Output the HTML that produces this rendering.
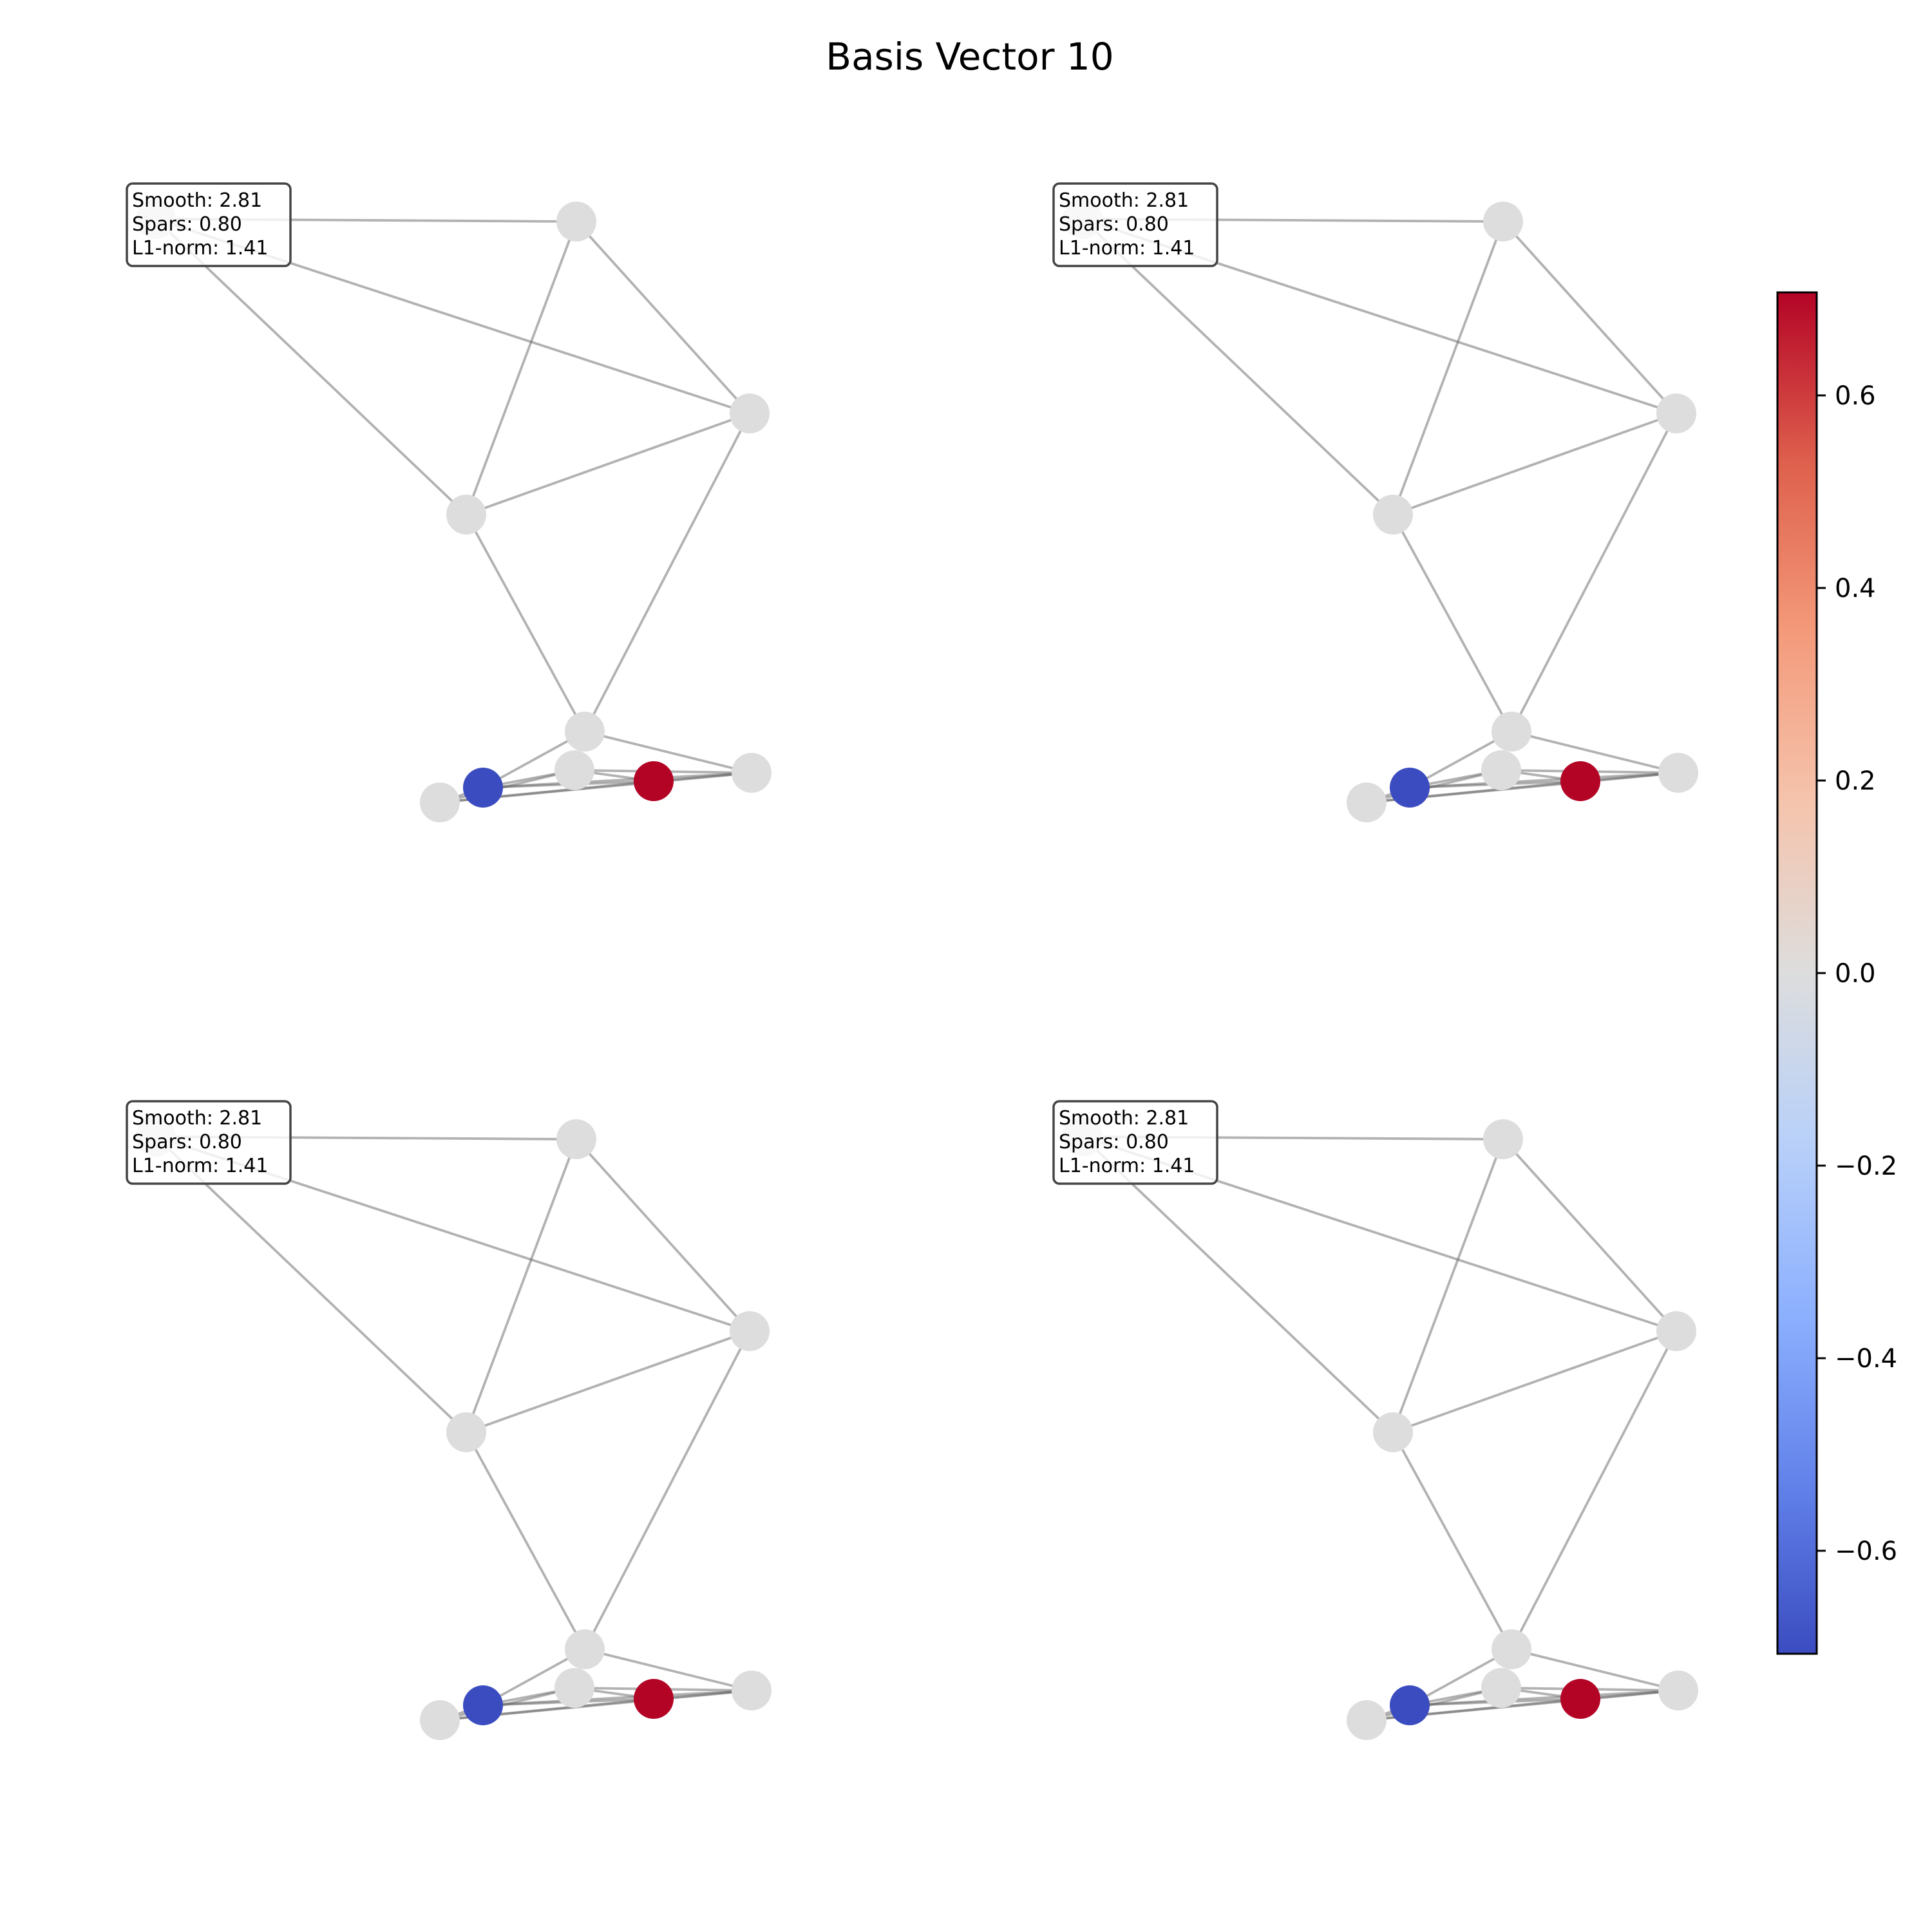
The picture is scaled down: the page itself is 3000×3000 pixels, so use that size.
<!DOCTYPE html>
<html><head><meta charset="utf-8"><style>
html,body{margin:0;padding:0;background:#fff}
svg{display:block}
text{font-family:"DejaVu Sans","Liberation Sans",sans-serif}
</style></head><body>
<svg id="fig" width="3000" height="3000" viewBox="0 0 3000 3000" xmlns="http://www.w3.org/2000/svg">
<defs>
<linearGradient id="cw" x1="0" y1="1" x2="0" y2="0">
<stop offset="0" stop-color="#3b4cc0"/><stop offset="0.125" stop-color="#6282ea"/><stop offset="0.25" stop-color="#8db0fe"/><stop offset="0.375" stop-color="#b8d0f9"/><stop offset="0.5" stop-color="#dddddd"/><stop offset="0.625" stop-color="#f5c4ad"/><stop offset="0.75" stop-color="#f49a7b"/><stop offset="0.875" stop-color="#de604d"/><stop offset="1" stop-color="#b40426"/>
</linearGradient>
</defs>
<text x="1506" y="108" font-size="58" text-anchor="middle">Basis Vector 10</text>
<g id="panels"></g>
<g id="cbar"></g>
</svg>
<script>
// graph layout (node positions within a panel, base panel coords) and node values
const nodeX = [242, 895, 1164, 724, 908, 892, 750, 1015, 1167, 683];
const nodeY = [340, 344, 642, 799, 1136, 1196, 1223, 1213, 1200, 1246];
const nodeValues = [0, 0, 0, 0, 0, 0, -0.707, 0.707, 0, 0];
const edgeFrom = [0,0,0,1,1,3,3,2,4,4,6,6,6,9,9,5,5,9,7,9];
const edgeTo   = [1,2,3,3,2,2,4,4,6,8,5,7,8,8,7,7,8,6,8,5];
const statLabels = ["Smooth: 2.81","Spars: 0.80","L1-norm: 1.41"];
const cbTicks = [-0.6,-0.4,-0.2,0.0,0.2,0.4,0.6];
const cbMin = -0.707, cbMax = 0.707;

const NS="http://www.w3.org/2000/svg";
function mk(t,a,p){const e=document.createElementNS(NS,t);for(const k in a)e.setAttribute(k,a[k]);p.appendChild(e);return e;}
const stops=[[59,76,192],[98,130,234],[141,176,254],[184,208,249],[221,221,221],[245,196,173],[244,154,123],[222,96,77],[180,4,38]];
function cmap(v){let t=(v-cbMin)/(cbMax-cbMin);t=Math.max(0,Math.min(1,t))*8;const i=Math.min(7,Math.floor(t)),f=t-i;const a=stops[i],b=stops[i+1];return `rgb(${a.map((c,j)=>Math.round(c+(b[j]-c)*f)).join(',')})`;}

const panels=document.getElementById('panels');
const offsets=[[0,0],[1448,0],[0,1433],[1448,1433]];
offsets.forEach((o,pi)=>{
  const g=mk('g',{transform:`translate(${o[0]-(o[0]?9:0)},${o[1]-(o[1]?8:0)})`},panels);
  
  
  for(let i=0;i<edgeFrom.length;i++){
    const a=edgeFrom[i],b=edgeTo[i];
    const l=mk('line',{x1:nodeX[a],y1:nodeY[a],x2:nodeX[b],y2:nodeY[b],stroke:'#666','stroke-opacity':0.5,'stroke-width':3.8},g);
    
    
  }
  for(let i=0;i<nodeX.length;i++){
    const c=mk('circle',{cx:nodeX[i],cy:nodeY[i],r:31,fill:cmap(nodeValues[i])},g);
    
    
  }
  const box=mk('rect',{x:197,y:285,width:254,height:128,rx:9,fill:'#fff','fill-opacity':0.8,stroke:'#444','stroke-width':3.5},g);
  
  
  statLabels.forEach((s,i)=>{
    const t=mk('text',{x:205,y:321+i*37,'font-size':30},g);
    t.textContent=s;
    
    
  });
});

const cb=document.getElementById('cbar');
const cbX=2760,cbW=61,cbTop=454,cbBot=2568;
const yScale=v=>cbBot-(v-cbMin)/(cbMax-cbMin)*(cbBot-cbTop);
mk('rect',{x:cbX,y:cbTop,width:cbW,height:cbBot-cbTop,fill:'url(#cw)',stroke:'#000','stroke-width':3},cb);
cbTicks.forEach(v=>{
  const y=yScale(v);
  mk('line',{x1:cbX+cbW,y1:y,x2:cbX+cbW+14,y2:y,stroke:'#000','stroke-width':3},cb);
  const t=mk('text',{x:cbX+cbW+28,y:y+14,'font-size':40},cb);
  t.textContent=(v<0?'\u2212':'')+Math.abs(v).toFixed(1);
  
  
});
</script>
</body></html>
